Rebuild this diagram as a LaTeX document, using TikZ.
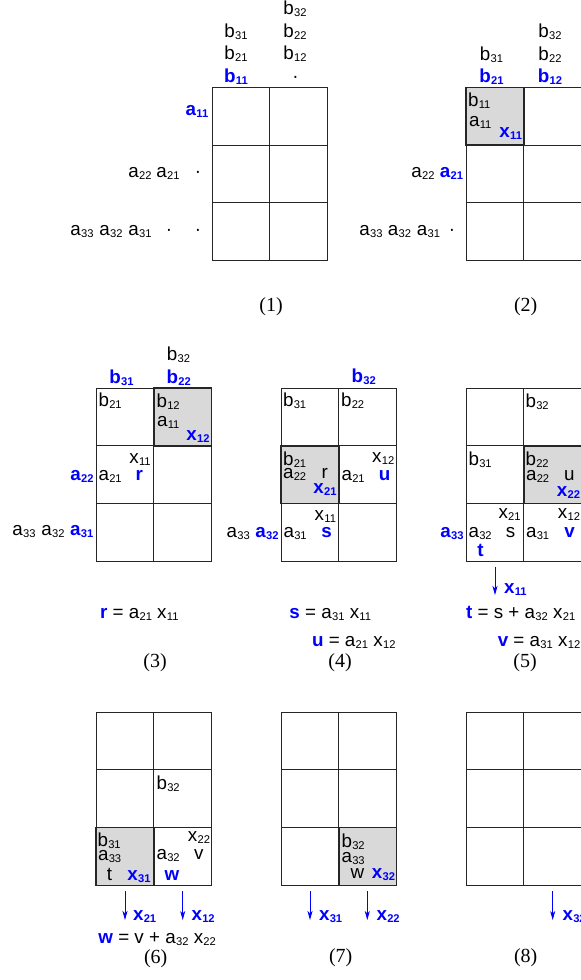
\documentclass[tikz,border=0pt]{standalone}
\usepackage{fontspec}
\setmainfont{Liberation Sans}
\newfontfamily\capfont{Liberation Serif}
\usetikzlibrary{arrows.meta}
\newcommand{\ix}[2]{#1\kern.3pt\raisebox{-2pt}{\fontsize{11.2}{11}\selectfont #2}}
\newcommand{\mygrid}[2]{%
  \draw[gridln] (#1,#2) rectangle (#1+115.6,#2+173.4);
  \draw[gridln] (#1+57.8,#2) -- (#1+57.8,#2+173.4);
  \draw[gridln] (#1,#2+57.8) -- (#1+115.6,#2+57.8);
  \draw[gridln] (#1,#2+115.6) -- (#1+115.6,#2+115.6);}
\newcommand{\shfillcell}[2]{\fill[shfill] (#1,#2) rectangle (#1+57.8,#2+57.8);}
\newcommand{\shedgecell}[2]{\draw[shedge] (#1,#2) rectangle (#1+57.8,#2+57.8);}
\begin{document}
\begin{tikzpicture}[x=1pt,y=-1pt,
  every node/.style={inner sep=0pt, outer sep=0pt, font=\fontsize{18.8}{20}\selectfont},
  txc/.style={anchor=base}, txl/.style={anchor=base west}, txr/.style={anchor=base east},
  hl/.style={text=blue, font=\fontsize{18.8}{20}\selectfont\bfseries},
  steplbl/.style={anchor=center, font=\capfont\fontsize{20}{22}\selectfont},
  gridln/.style={line width=0.9pt, draw=black!85},
  shfill/.style={fill=black!15},
  shedge/.style={line width=1.4pt, draw=black!85},
  dnarrow/.style={draw=blue, line width=0.8pt, -{Stealth[length=9pt,width=5pt,inset=2.5pt]}}]
\clip (0,0) rectangle (581,980);
\fill[white] (0,0) rectangle (581,980);
% shaded cells
\shfillcell{466}{87.3}
\shfillcell{153.8}{388}
\shfillcell{281}{445.8}
\shfillcell{523.8}{445.8}
\shfillcell{96}{827.6}
\shfillcell{338.8}{827.6}
% grids
\mygrid{212}{87.3}
\mygrid{466}{87.3}
\mygrid{96}{388}
\mygrid{281}{388}
\mygrid{466}{388}
\mygrid{96}{712}
\mygrid{281}{712}
\mygrid{466}{712}
\shedgecell{466}{87.3}
\shedgecell{153.8}{388}
\shedgecell{281}{445.8}
\shedgecell{523.8}{445.8}
\shedgecell{96}{827.6}
\shedgecell{338.8}{827.6}
% ---------- (1)
\node[txc,hl] (g1b11) at (236,82) {\ix{b}{11}};
\node[txc] (g1b21) at (236,59.5) {\ix{b}{21}};
\node[txc] (g1b31) at (236,37) {\ix{b}{31}};
\node[txc] (g1d0) at (295.5,82) {·};
\node[txc] (g1b12) at (295,59.5) {\ix{b}{12}};
\node[txc] (g1b22) at (295,37) {\ix{b}{22}};
\node[txc] (g1b32) at (295,14) {\ix{b}{32}};
\node[txc,hl] (g1a11) at (197,115) {\ix{a}{11}};
\node[txc] (g1a22) at (140,177.5) {\ix{a}{22}};
\node[txc] (g1a21) at (168,177.5) {\ix{a}{21}};
\node[txc] (g1d1) at (198,177.5) {·};
\node[txc] (g1a33) at (82,235) {\ix{a}{33}};
\node[txc] (g1a32) at (111,235) {\ix{a}{32}};
\node[txc] (g1a31) at (140,235) {\ix{a}{31}};
\node[txc] (g1d2) at (169,235) {·};
\node[txc] (g1d3) at (198,235) {·};
\node[steplbl] (c1) at (271,306.7) {(1)};
% ---------- (2)
\node[txc,hl] (g2b21) at (491.5,82) {\ix{b}{21}};
\node[txc] (g2b31) at (491.5,60) {\ix{b}{31}};
\node[txc,hl] (g2b12) at (550,82) {\ix{b}{12}};
\node[txc] (g2b22) at (550,60) {\ix{b}{22}};
\node[txc] (g2b32) at (550,37) {\ix{b}{32}};
\node[txl] (g2cb11) at (468,106) {\ix{b}{11}};
\node[txl] (g2ca11) at (469,126) {\ix{a}{11}};
\node[txr,hl] (g2cx11) at (522,137) {\ix{x}{11}};
\node[txc] (g2a22) at (423,177.5) {\ix{a}{22}};
\node[txc,hl] (g2a21) at (451.5,177.5) {\ix{a}{21}};
\node[txc] (g2a33) at (371,235) {\ix{a}{33}};
\node[txc] (g2a32) at (399.5,235) {\ix{a}{32}};
\node[txc] (g2a31) at (428.5,235) {\ix{a}{31}};
\node[txc] (g2d0) at (452,235) {·};
\node[steplbl] (c2) at (525.7,306.7) {(2)};
% ---------- (3)
\node[txc,hl] (g3b31) at (121.5,383.3) {\ix{b}{31}};
\node[txc,hl] (g3b22) at (178.7,383.3) {\ix{b}{22}};
\node[txc] (g3b32) at (178.5,360) {\ix{b}{32}};
\node[txl] (g3cb21) at (98.5,406.7) {\ix{b}{21}};
\node[txl] (g3cb12) at (156.5,407) {\ix{b}{12}};
\node[txl] (g3ca11) at (157,426.7) {\ix{a}{11}};
\node[txr,hl] (g3cx12) at (209.5,440) {\ix{x}{12}};
\node[txr] (g3cx11) at (150.7,463.3) {\ix{x}{11}};
\node[txl] (g3ca21) at (98.5,480) {\ix{a}{21}};
\node[txc,hl] (g3cr) at (139.2,480) {r};
\node[txc,hl] (g3a22) at (82,480) {\ix{a}{22}};
\node[txc] (g3a33) at (24,535) {\ix{a}{33}};
\node[txc] (g3a32) at (53,535) {\ix{a}{32}};
\node[txc,hl] (g3a31) at (81.7,535) {\ix{a}{31}};
\node[txc] (g3eq) at (139.3,618.3) {{\bfseries\color{blue}r} = \ix{a}{21} \ix{x}{11}};
\node[steplbl] (c3) at (155,663) {(3)};
% ---------- (4)
\node[txc,hl] (g4b32) at (363.7,382.5) {\ix{b}{32}};
\node[txl] (g4cb31) at (283,406.7) {\ix{b}{31}};
\node[txl] (g4cb22) at (341,406.7) {\ix{b}{22}};
\node[txl] (g4cb21) at (283,465) {\ix{b}{21}};
\node[txl] (g4ca22) at (283,478.3) {\ix{a}{22}};
\node[txc] (g4cr) at (324.8,478.3) {r};
\node[txr,hl] (g4cx21) at (336.7,493.3) {\ix{x}{21}};
\node[txr] (g4cx12) at (394.3,462.7) {\ix{x}{12}};
\node[txl] (g4ca21) at (341.5,480) {\ix{a}{21}};
\node[txc,hl] (g4cu) at (384.7,480) {u};
\node[txr] (g4cx11) at (336,520) {\ix{x}{11}};
\node[txl] (g4ca31) at (283.5,537.3) {\ix{a}{31}};
\node[txc,hl] (g4cs) at (326.7,537.3) {s};
\node[txc] (g4a33) at (238.3,537) {\ix{a}{33}};
\node[txc,hl] (g4a32) at (267,537) {\ix{a}{32}};
\node[txc] (g4eqs) at (330.3,618.3) {{\bfseries\color{blue}s} = \ix{a}{31} \ix{x}{11}};
\node[txc] (g4equ) at (353.8,646.7) {{\bfseries\color{blue}u} = \ix{a}{21} \ix{x}{12}};
\node[steplbl] (c4) at (340,663) {(4)};
% ---------- (5)
\node[txl] (g5cb32) at (525.5,407.3) {\ix{b}{32}};
\node[txl] (g5cb31) at (468.5,465) {\ix{b}{31}};
\node[txl] (g5cb22) at (525.5,465) {\ix{b}{22}};
\node[txl] (g5ca22) at (526,480) {\ix{a}{22}};
\node[txc] (g5cu) at (569.3,480) {u};
\node[txr,hl] (g5cx22) at (580,496.7) {\ix{x}{22}};
\node[txr] (g5cx21) at (520.7,518.3) {\ix{x}{21}};
\node[txl] (g5ca32) at (468.5,537.3) {\ix{a}{32}};
\node[txc] (g5cs) at (510.5,537.3) {s};
\node[txc,hl] (g5ct) at (480.5,556) {t};
\node[txr] (g5cx12) at (580,518.3) {\ix{x}{12}};
\node[txl] (g5ca31) at (526,537.3) {\ix{a}{31}};
\node[txc,hl] (g5cv) at (569.5,537.3) {v};
\node[txc,hl] (g5a33) at (452,537) {\ix{a}{33}};
\coordinate (g5as) at (495,567.3);
\coordinate (g5ae) at (495,595);
\draw[dnarrow] (g5as) -- (g5ae);
\node[txl,hl] (g5ox11) at (504,593.3) {\ix{x}{11}};
\node[txc] (g5eqt) at (520.7,618.3) {{\bfseries\color{blue}t} = s + \ix{a}{32} \ix{x}{21}};
\node[txc] (g5eqv) at (539,646.7) {{\bfseries\color{blue}v} = \ix{a}{31} \ix{x}{12}};
\node[steplbl] (c5) at (525,663) {(5)};
% ---------- (6)
\node[txl] (g6cb32) at (156.5,789.3) {\ix{b}{32}};
\node[txl] (g6cb31) at (97.5,846.7) {\ix{b}{31}};
\node[txl] (g6ca33) at (98,860) {\ix{a}{33}};
\node[txc] (g6ct) at (109.5,880) {t};
\node[txr,hl] (g6cx31) at (150.7,880) {\ix{x}{31}};
\node[txr] (g6cx22) at (210,841.7) {\ix{x}{22}};
\node[txl] (g6ca32) at (156.5,859.3) {\ix{a}{32}};
\node[txc] (g6cv) at (198.7,859.3) {v};
\node[txc,hl] (g6cw) at (172,880) {w};
\coordinate (g6as1) at (125,891);
\coordinate (g6ae1) at (125,920);
\draw[dnarrow] (g6as1) -- (g6ae1);
\node[txl,hl] (g6ox21) at (133,920) {\ix{x}{21}};
\coordinate (g6as2) at (182.7,891);
\coordinate (g6ae2) at (182.7,920);
\draw[dnarrow] (g6as2) -- (g6ae2);
\node[txl,hl] (g6ox12) at (191.5,920) {\ix{x}{12}};
\node[txc] (g6eq) at (157.2,943.3) {{\bfseries\color{blue}w} = v + \ix{a}{32} \ix{x}{22}};
\node[steplbl] (c6) at (155.7,959) {(6)};
% ---------- (7)
\node[txl] (g7cb32) at (341.5,847.7) {\ix{b}{32}};
\node[txl] (g7ca33) at (341.5,862.7) {\ix{a}{33}};
\node[txc] (g7cw) at (357.5,878.3) {w};
\node[txr,hl] (g7cx32) at (395,878.3) {\ix{x}{32}};
\coordinate (g7as1) at (310,891);
\coordinate (g7ae1) at (310,920);
\draw[dnarrow] (g7as1) -- (g7ae1);
\node[txl,hl] (g7ox31) at (319,920) {\ix{x}{31}};
\coordinate (g7as2) at (367.3,891);
\coordinate (g7ae2) at (367.3,920);
\draw[dnarrow] (g7as2) -- (g7ae2);
\node[txl,hl] (g7ox22) at (376.5,920) {\ix{x}{22}};
\node[steplbl] (c7) at (340.7,958) {(7)};
% ---------- (8)
\coordinate (g8as) at (552.7,891);
\coordinate (g8ae) at (552.7,920);
\draw[dnarrow] (g8as) -- (g8ae);
\node[txl,hl] (g8ox32) at (562.5,920) {\ix{x}{32}};
\node[steplbl] (c8) at (525.7,958) {(8)};
\end{tikzpicture}
\end{document}
